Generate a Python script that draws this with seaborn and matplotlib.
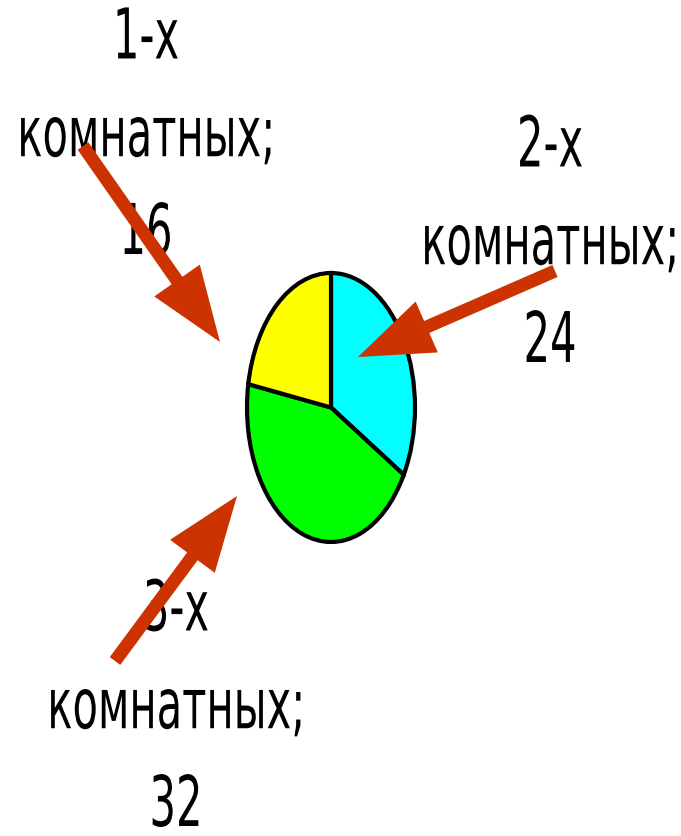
import seaborn as sns
import matplotlib
matplotlib.use("Agg")
import matplotlib.pyplot as plt
from matplotlib import patheffects
from matplotlib.patches import FancyArrowPatch
from matplotlib.transforms import Affine2D

# данные, по часовой стрелке от верха
rooms = ["2-х", "3-х", "1-х"]
counts = [24, 32, 16]
colors = ["#00FFFF", "#00FF00", "#FFFF00"]

sns.set_theme(style="white")
plt.rcParams["font.family"] = ["DejaVu Sans"]


class Stretch(patheffects.AbstractPathEffect):
    # текст на исходной картинке вытянут по вертикали
    def __init__(self, sy):
        super().__init__()
        self.sy = sy

    def draw_path(self, renderer, gc, tpath, affine, rgbFace=None):
        renderer.draw_path(gc, tpath, Affine2D().scale(1, self.sy) + affine, rgbFace)


fig = plt.figure(figsize=(6.81, 8.37), dpi=100)
fig.patch.set_facecolor("white")

# круг растянут в эллипс, как на картинке
ax = fig.add_axes([247 / 681, 1 - 543 / 837, 168 / 681, 269 / 837])
ax.pie(counts, colors=colors, startangle=90, counterclock=False,
       wedgeprops=dict(edgecolor="black", linewidth=3, clip_on=False))
ax.set_aspect("auto")
ax.set_xlim(-1, 1)
ax.set_ylim(-1, 1)
ax.axis("off")

# подписи: x центра и базовая линия последней строки (доли фигуры)
label_pos = {"2-х": (550 / 681, 1 - 363 / 837),
             "3-х": (176 / 681, 1 - 827 / 837),
             "1-х": (146 / 681, 1 - 255 / 837)}
for r, c in zip(rooms, counts):
    x, y = label_pos[r]
    fig.text(x, y, f"{r}\nкомнатных;\n{c}", ha="center", va="baseline",
             fontsize=30, color="black", linespacing=2.69, zorder=3,
             path_effects=[Stretch(1.68)])

# стрелки
arrows = [((83, 147), (220, 343)),
          ((555, 272), (358, 358)),
          ((115, 662), (237, 497))]
for (x0, y0), (x1, y1) in arrows:
    a = FancyArrowPatch((x0 / 681, 1 - y0 / 837), (x1 / 681, 1 - y1 / 837),
                        transform=fig.transFigure, mutation_scale=1,
                        arrowstyle="simple,head_length=54,head_width=40,tail_width=9.4",
                        color="#CC3300", linewidth=0, shrinkA=0, shrinkB=0, zorder=5)
    fig.add_artist(a)

fig.savefig("out.png", dpi=100, facecolor="white")
